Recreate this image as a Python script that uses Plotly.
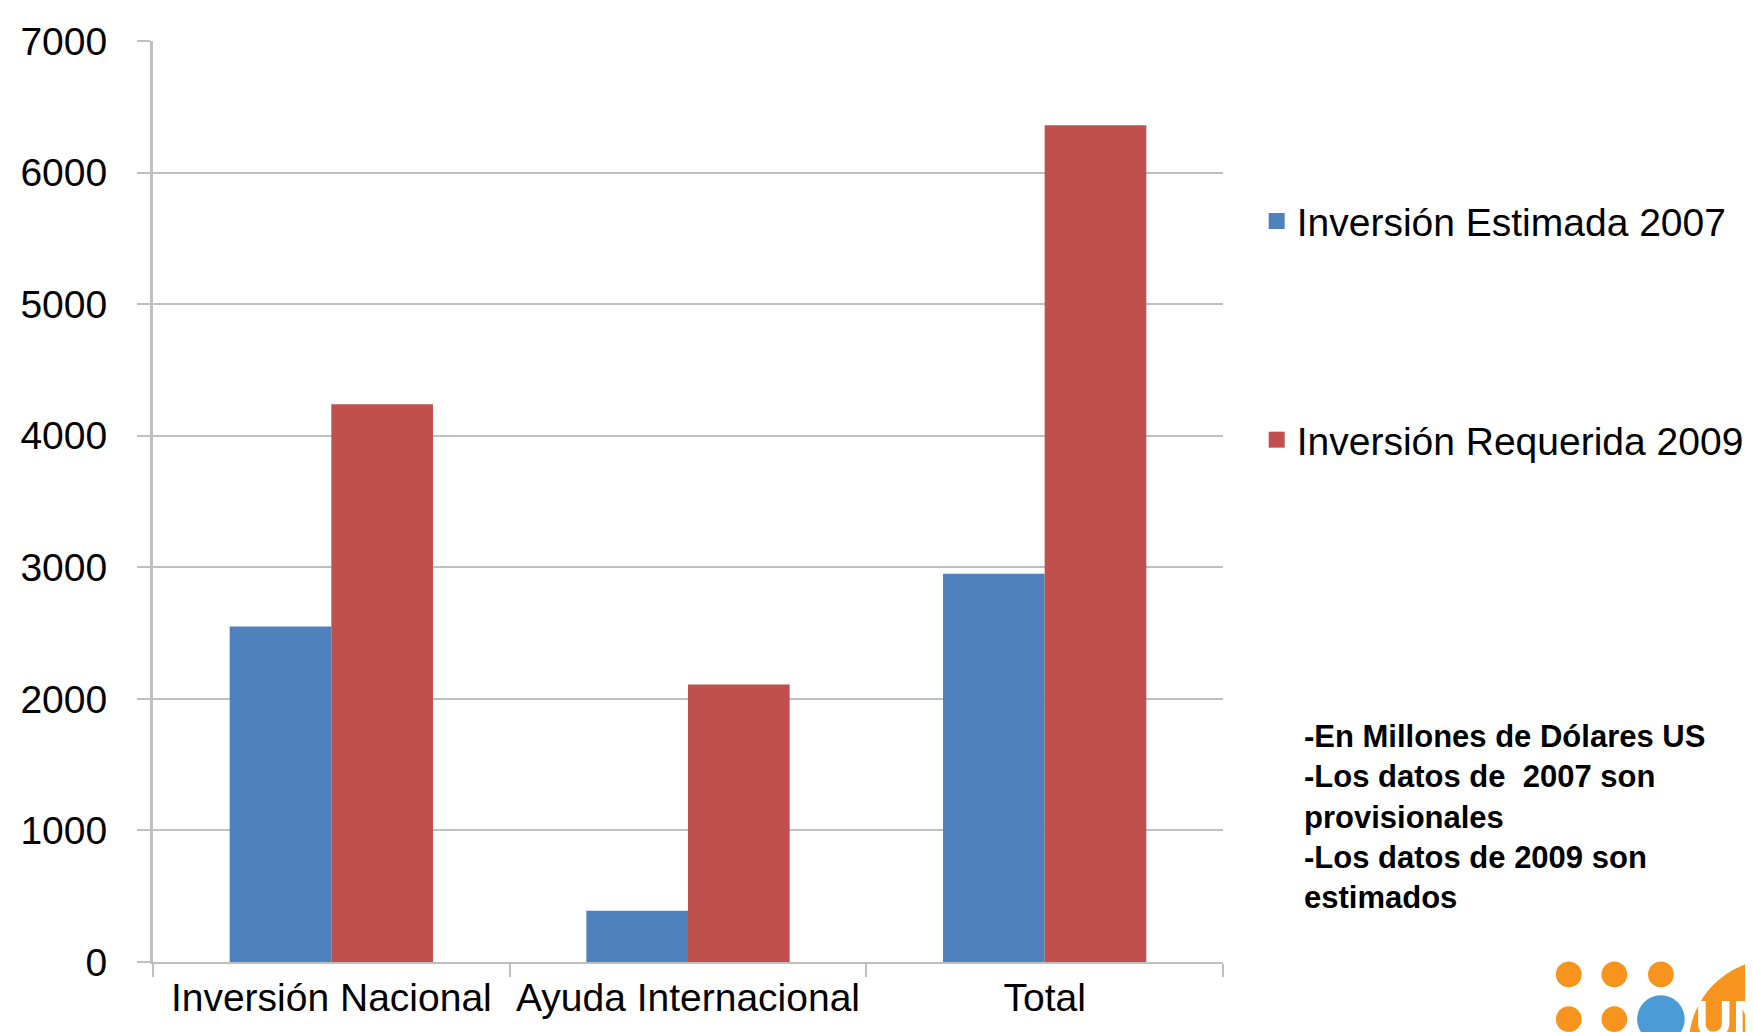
import plotly.graph_objects as go

categories = ["Inversión Nacional", "Ayuda Internacional", "Total"]
estimada_2007 = [2550, 390, 2950]
requerida_2009 = [4240, 2110, 6360]
series_names = ["Inversión Estimada 2007", "Inversión Requerida 2009"]
series_colors = ["#4F81BD", "#C0504D"]
y_ticks = [0, 1000, 2000, 3000, 4000, 5000, 6000, 7000]
note_lines = ["-En Millones de Dólares US", "-Los datos de \u00a02007 son", "provisionales",
              "-Los datos de 2009 son", "estimados"]

W, H = 1753, 1032
L, R, T, B = 136, 1216, 28, 954.5
FONT = "Arial, Liberation Sans, sans-serif"
GRID = "#BFBFBF"


def px(x):
    return (x - L) / (R - L)


def py(y):
    return (B - y) / (B - T)


fig = go.Figure()
for vals, name, col, grp in [(estimada_2007, series_names[0], series_colors[0], "a"),
                             (requerida_2009, series_names[1], series_colors[1], "b")]:
    fig.add_trace(go.Bar(x=categories, y=vals, name=name, showlegend=False,
                         marker=dict(color=col, line=dict(width=0)), legendgroup=grp))
    # legend entry with a larger square symbol
    fig.add_trace(go.Scatter(x=[None], y=[None], mode="markers", name=name,
                             marker=dict(symbol="square", size=16, color=col),
                             legendgroup=grp, showlegend=True, hoverinfo="skip"))

shapes = []
orange = "#F7941D"
for cx, cy in [(1565, 967), (1611, 967), (1658, 967), (1565, 1012), (1611, 1012)]:
    r = 13
    shapes.append(dict(type="circle", xref="paper", yref="paper",
                       x0=px(cx - r), x1=px(cx + r), y0=py(cy + r), y1=py(cy - r),
                       fillcolor=orange, line=dict(width=0), layer="above"))
r = 24
shapes.append(dict(type="circle", xref="paper", yref="paper",
                   x0=px(1658 - r), x1=px(1658 + r), y0=py(1012 + r), y1=py(1012 - r),
                   fillcolor="#4A9BD6", line=dict(width=0), layer="above"))
r = 86
shapes.append(dict(type="circle", xref="paper", yref="paper",
                   x0=px(1772 - r), x1=px(1772 + r), y0=py(1038 + r), y1=py(1038 - r),
                   fillcolor=orange, line=dict(width=0), layer="above"))

annotations = [
    dict(text="<b>" + "<br>".join(note_lines) + "</b>", xref="paper", yref="paper",
         x=px(1296), y=py(708), xanchor="left", yanchor="top", align="left",
         showarrow=False, font=dict(family=FONT, size=31, color="#000000")),
    dict(text="<b>UNF</b>", xref="paper", yref="paper", x=px(1690), y=py(1012),
         xanchor="left", yanchor="middle", showarrow=False,
         font=dict(family="Liberation Sans Narrow, Arial Narrow, " + FONT, size=52, color="white")),
]

fig.update_layout(
    width=W, height=H,
    margin=dict(l=L, r=W - R, t=T, b=H - B, pad=0),
    plot_bgcolor="white", paper_bgcolor="white",
    barmode="group", bargap=0.43, bargroupgap=0,
    font=dict(family=FONT, size=39, color="#000000"),
    showlegend=True,
    legend=dict(x=px(1250), y=py(177), xanchor="left", yanchor="top",
                font=dict(family=FONT, size=39, color="#000000"),
                traceorder="grouped", tracegroupgap=165, bgcolor="rgba(0,0,0,0)",
                itemsizing="trace"),
    shapes=shapes,
    annotations=annotations,
)
fig.update_xaxes(type="category", tickson="boundaries", ticks="outside", ticklen=13,
                 tickcolor=GRID, tickwidth=2, showline=True, linecolor=GRID, linewidth=2,
                 showgrid=False, tickfont=dict(family=FONT, size=39, color="#000000"))
fig.update_yaxes(range=[0, 7000], tickvals=y_ticks, ticks="outside", ticklen=13,
                 tickcolor=GRID, tickwidth=2, showline=True, linecolor=GRID, linewidth=3,
                 showgrid=True, gridcolor=GRID, gridwidth=2, zeroline=False,
                 ticklabelstandoff=22, tickfont=dict(family=FONT, size=39, color="#000000"))

fig.write_html("out.html")
